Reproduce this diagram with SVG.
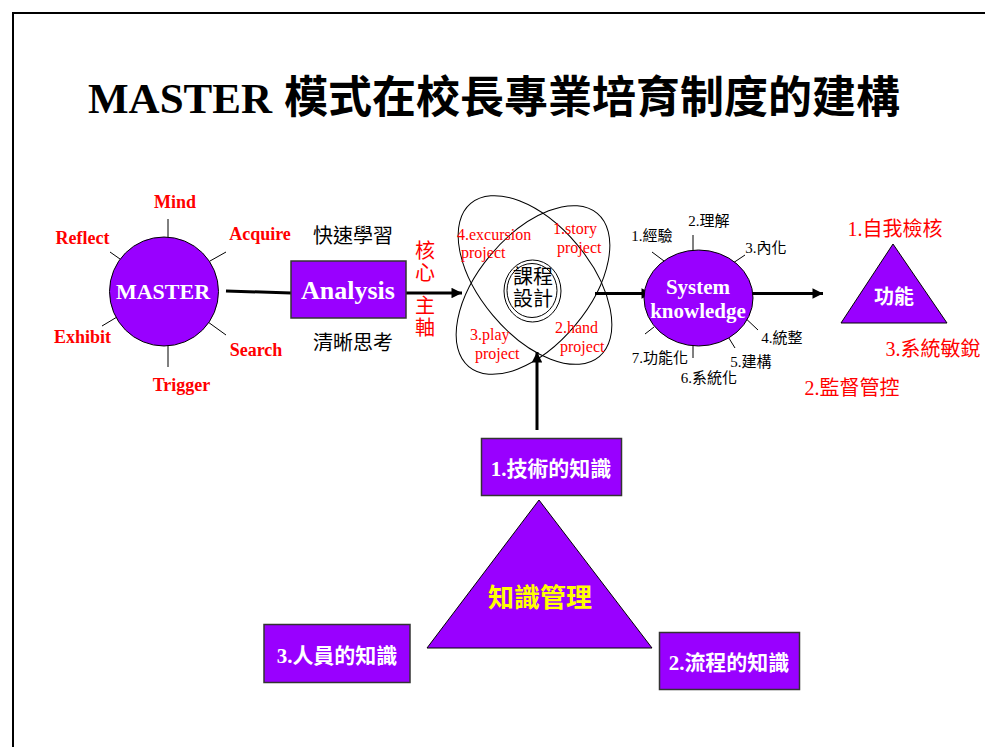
<svg xmlns="http://www.w3.org/2000/svg" width="985" height="747" viewBox="0 0 985 747">
<defs>
<marker id="ah" viewBox="0 0 10 10" refX="10" refY="5" markerWidth="4.5" markerHeight="3.5" markerUnits="strokeWidth" orient="auto">
<path d="M0,0 L10,5 L0,10 Z" fill="#000"/>
</marker>
<style>
.pf{fill:#9900ff;stroke:#000;stroke-width:1}
.bx{fill:#9900ff;stroke:#333;stroke-width:1.5}
.sp{stroke:#000;stroke-width:1;fill:none}
.th{stroke:#000;stroke-width:3;fill:none}
.rl{font-family:"Liberation Serif",serif;font-weight:bold;font-size:18px;fill:#ff0000;text-anchor:middle}
.wl{font-family:"Liberation Serif","Noto Sans CJK TC",serif;font-weight:bold;fill:#fff;text-anchor:middle}
.cj{font-family:"Noto Sans CJK TC",sans-serif;font-size:20px;fill:#000;text-anchor:middle}
.cr{font-family:"Noto Sans CJK TC",sans-serif;font-size:20px;fill:#ff0000;text-anchor:middle}
.pr{font-family:"Liberation Serif",serif;font-size:16px;fill:#ff0000}
.sk{font-family:"Liberation Serif","Noto Sans CJK TC",sans-serif;font-size:15px;fill:#000;text-anchor:middle}
.fr{font-family:"Liberation Serif","Noto Sans CJK TC",sans-serif;font-size:20px;fill:#ff0000;text-anchor:middle}
.el{fill:none;stroke:#000;stroke-width:1}
</style>
</defs>
<rect width="985" height="747" fill="#fff"/>
<path d="M13,747 V13 H985" fill="none" stroke="#000" stroke-width="2"/>
<g id="title">
<text x="88" y="113" font-family="Liberation Serif,serif" font-weight="bold" font-size="43">MASTER</text>
<text x="284" y="113" font-family="Noto Sans CJK TC,sans-serif" font-weight="bold" font-size="44">模式在校長專業培育制度的建構</text>
</g>
<g id="connectors">
<line class="th" x1="226" y1="291" x2="291" y2="293"/>
<line class="th" x1="406" y1="293" x2="462" y2="293" marker-end="url(#ah)"/>
<line class="th" x1="595" y1="293.5" x2="652" y2="293.5" marker-end="url(#ah)"/>
<line class="th" x1="743" y1="293.5" x2="823" y2="293.5" marker-end="url(#ah)"/>
<line class="th" x1="537" y1="430" x2="537" y2="352" marker-end="url(#ah)"/>
</g>
<g id="master">
<line class="sp" x1="168" y1="219" x2="168" y2="237"/>
<line class="sp" x1="168" y1="345" x2="168" y2="367"/>
<line class="sp" x1="210" y1="261" x2="226" y2="252"/>
<line class="sp" x1="110" y1="252" x2="120" y2="259"/>
<line class="sp" x1="102" y1="326" x2="117" y2="317"/>
<line class="sp" x1="208" y1="322" x2="226" y2="335"/>
<circle class="pf" cx="164" cy="291.5" r="54.5"/>
<text class="wl" x="163" y="299" font-size="22">MASTER</text>
<text class="rl" x="175" y="208">Mind</text>
<text class="rl" x="82.5" y="244">Reflect</text>
<text class="rl" x="260" y="240">Acquire</text>
<text class="rl" x="82.5" y="343">Exhibit</text>
<text class="rl" x="256" y="356">Search</text>
<text class="rl" x="181.5" y="391">Trigger</text>
</g>
<g id="analysis">
<rect class="bx" x="291" y="261" width="115" height="57"/>
<text class="wl" x="348" y="299" font-size="26">Analysis</text>
<text class="cj" x="353" y="243">快速學習</text>
<text class="cj" x="353" y="350">清晰思考</text>
<text class="cr"><tspan x="425" y="258">核</tspan><tspan x="425" y="280">心</tspan><tspan x="425" y="313">主</tspan><tspan x="425" y="335">軸</tspan></text>
</g>
<g id="curriculum">
<ellipse class="el" cx="535" cy="280" rx="100" ry="55" transform="rotate(50 535 280)"/>
<ellipse class="el" cx="533" cy="290" rx="100" ry="55" transform="rotate(-50 533 290)"/>
<ellipse class="el" cx="532.5" cy="291" rx="28.5" ry="31"/>
<ellipse class="el" cx="532" cy="290.5" rx="25" ry="27"/>
<text class="cj" font-size="18"><tspan x="533" y="284">課程</tspan><tspan x="533" y="306">設計</tspan></text>
<text class="pr"><tspan x="457" y="240">4.excursion</tspan><tspan x="461" y="258">project</tspan></text>
<text class="pr"><tspan x="553" y="234">1.story</tspan><tspan x="557" y="253">project</tspan></text>
<text class="pr"><tspan x="470" y="340">3.play</tspan><tspan x="475" y="359">project</tspan></text>
<text class="pr"><tspan x="555" y="333">2.hand</tspan><tspan x="560" y="352">project</tspan></text>
</g>
<g id="system">
<line class="sp" x1="652" y1="252" x2="664" y2="261"/>
<line class="sp" x1="693" y1="235" x2="693" y2="251"/>
<line class="sp" x1="733" y1="263" x2="745" y2="255"/>
<line class="sp" x1="740" y1="313" x2="758" y2="330"/>
<line class="sp" x1="727" y1="335" x2="735" y2="348"/>
<line class="sp" x1="693" y1="345" x2="693" y2="358"/>
<line class="sp" x1="645" y1="334" x2="654" y2="327"/>
<ellipse class="pf" cx="698.5" cy="298" rx="54.5" ry="48"/>
<text class="wl" x="698" y="294" font-size="21">System</text>
<text class="wl" x="698" y="318" font-size="21">knowledge</text>
<text class="sk" x="652" y="241">1.經驗</text>
<text class="sk" x="709" y="226">2.理解</text>
<text class="sk" x="766" y="253">3.內化</text>
<text class="sk" x="782" y="343">4.統整</text>
<text class="sk" x="751" y="367">5.建構</text>
<text class="sk" x="709" y="383">6.系統化</text>
<text class="sk" x="660" y="363">7.功能化</text>
</g>
<g id="function">
<polygon class="pf" points="893,244 841,323 947,323"/>
<text class="wl" x="894" y="304" font-size="20">功能</text>
<text class="fr" x="895" y="236">1.自我檢核</text>
<text class="fr" x="933" y="356">3.系統敏銳</text>
<text class="fr" x="852" y="395">2.監督管控</text>
</g>
<g id="tech">
<rect class="bx" x="481.5" y="438.5" width="140" height="57"/>
<text class="wl" x="551" y="476" font-size="21">1.技術的知識</text>
</g>
<g id="km">
<polygon class="pf" points="539,500 427,648 652,648"/>
<text x="540" y="607" font-family="Noto Sans CJK TC,sans-serif" font-weight="bold" font-size="26" fill="#ffff00" text-anchor="middle">知識管理</text>
</g>
<g id="people">
<rect class="bx" x="264" y="624.5" width="146" height="58"/>
<text class="wl" x="337" y="663" font-size="21">3.人員的知識</text>
</g>
<g id="process">
<rect class="bx" x="659.5" y="632.5" width="140" height="57"/>
<text class="wl" x="729" y="670" font-size="21">2.流程的知識</text>
</g>
</svg>
